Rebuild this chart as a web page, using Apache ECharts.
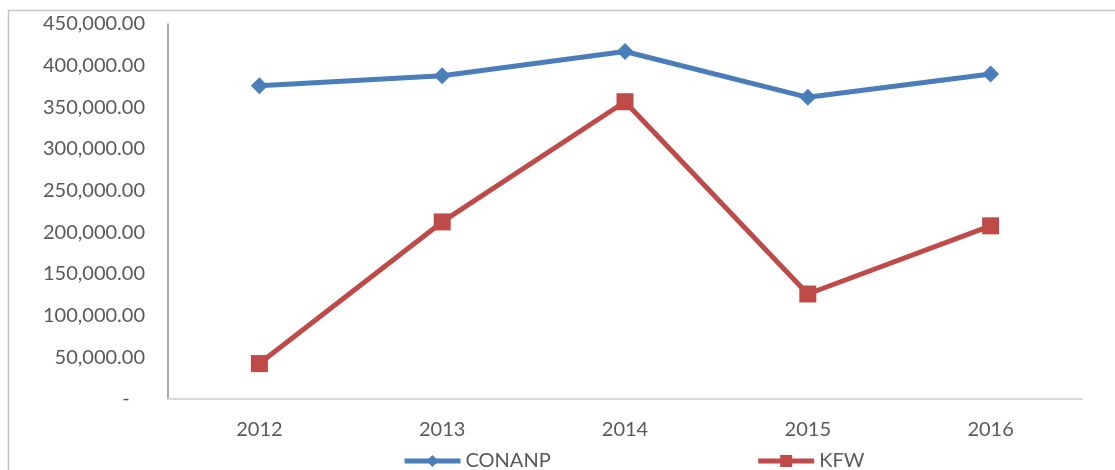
<!DOCTYPE html>
<html>
<head>
<meta charset="utf-8">
<script src="https://cdn.jsdelivr.net/npm/echarts@6/dist/echarts.min.js"></script>
<style>
  html, body { margin: 0; padding: 0; background: #fff; }
  #chart { width: 1115px; height: 470px; }
</style>
</head>
<body>
<div id="chart"></div>
<script>
const years = ['2012', '2013', '2014', '2015', '2016'];
const conanp = [376000, 388000, 417000, 362000, 390000];
const kfw = [42500, 212500, 356700, 126000, 207800];
const yTicks = [0, 50000, 100000, 150000, 200000, 250000, 300000, 350000, 400000, 450000];

const font = 'Lato, "Liberation Sans", sans-serif';

const chart = echarts.init(document.getElementById('chart'));

// excel accounting style: zero shown as a dash
const fmt = (v) => {
  if (v === 0) return '-   ';
  return v.toLocaleString('en-US', { minimumFractionDigits: 2, maximumFractionDigits: 2 });
};

chart.setOption({
  animation: false,
  graphic: [{
    type: 'rect',
    shape: { x: 8.5, y: 10.5, width: 1200, height: 600 },
    style: { fill: 'none', stroke: '#c4c4c4', lineWidth: 1.5 },
    silent: true
  }],
  grid: {
    left: 168,
    right: 33,
    top: 24,
    bottom: 71
  },
  legend: {
    data: ['CONANP', 'KFW'],
    left: 397,
    top: 446,
    itemWidth: 56,
    itemHeight: 15,
    itemGap: 205,
    lineStyle: { width: 5 },
    textStyle: { color: '#595959', fontSize: 20, fontFamily: font }
  },
  xAxis: {
    type: 'category',
    data: years,
    boundaryGap: true,
    axisLine: { lineStyle: { color: '#d9d9d9', width: 2 } },
    axisTick: { show: false },
    axisLabel: { color: '#595959', fontSize: 20, fontFamily: font, margin: 21 },
    splitLine: { show: false }
  },
  yAxis: {
    type: 'value',
    min: yTicks[0],
    max: yTicks[yTicks.length - 1],
    interval: 50000,
    axisLine: { show: true, lineStyle: { color: '#8c8c8c', width: 1.5 } },
    axisTick: { show: false },
    splitLine: { show: false },
    axisLabel: { color: '#595959', fontSize: 20, fontFamily: font, margin: 23, formatter: fmt }
  },
  series: [{
    name: 'CONANP',
    type: 'line',
    data: conanp,
    symbol: 'diamond',
    symbolSize: 17,
    showAllSymbol: true,
    lineStyle: { color: '#4a7ebb', width: 5 },
    itemStyle: { color: '#4a7ebb' }
  }, {
    name: 'KFW',
    type: 'line',
    data: kfw,
    symbol: 'rect',
    symbolSize: 17,
    showAllSymbol: true,
    lineStyle: { color: '#be4b48', width: 5 },
    itemStyle: { color: '#be4b48' }
  }]
});
</script>
</body>
</html>
